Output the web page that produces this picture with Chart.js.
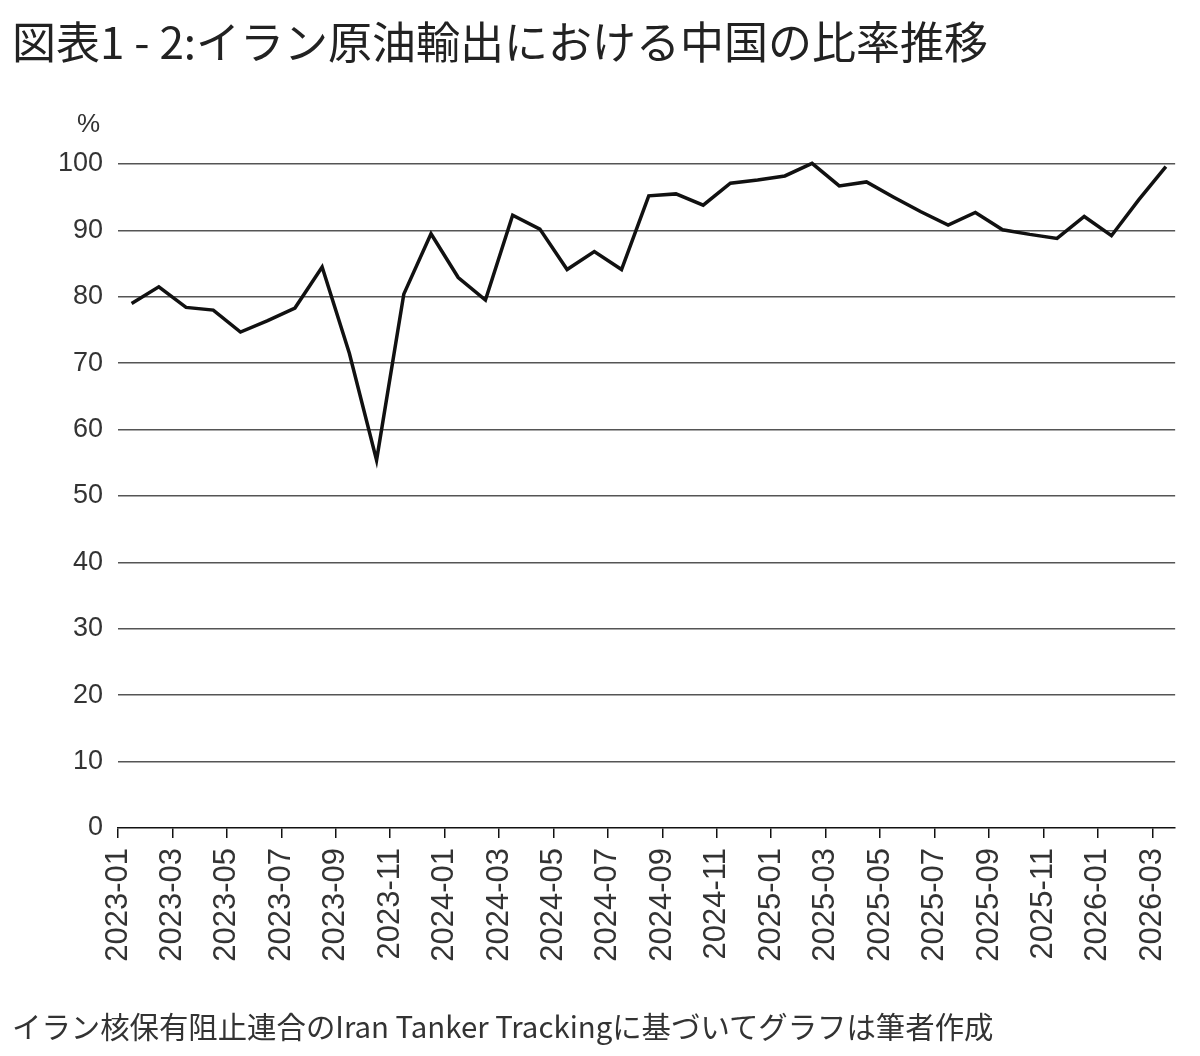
<!DOCTYPE html>
<html><head><meta charset="utf-8">
<script src="https://cdn.jsdelivr.net/npm/chart.js@4"></script>
<style>
html,body{margin:0;padding:0;background:#fff;}
#wrap{position:relative;width:1200px;height:1056px;overflow:hidden;}
canvas{position:absolute;left:0;top:0;}
#title{position:absolute;left:12px;top:18px;font-family:"Noto Sans CJK JP";font-size:44px;color:#222;white-space:nowrap;line-height:1;}
#unit{position:absolute;left:77px;top:110px;font-family:"Liberation Sans";font-size:26px;color:#333;line-height:1;}
#note{position:absolute;left:12px;top:1011px;font-family:"Noto Sans CJK JP";font-size:29.4px;color:#333;white-space:nowrap;line-height:1;}
</style></head>
<body><div id="wrap"><canvas id="c" width="1200" height="1056"></canvas>
<div id="title">図表1 - 2:イラン原油輸出における中国の比率推移</div>
<div id="unit">%</div>
<div id="note">イラン核保有阻止連合のIran Tanker Trackingに基づいてグラフは筆者作成</div>
</div>
<script>
const months = ['2023-01','2023-02','2023-03','2023-04','2023-05','2023-06','2023-07','2023-08','2023-09','2023-10','2023-11','2023-12',
  '2024-01','2024-02','2024-03','2024-04','2024-05','2024-06','2024-07','2024-08','2024-09','2024-10','2024-11','2024-12',
  '2025-01','2025-02','2025-03','2025-04','2025-05','2025-06','2025-07','2025-08','2025-09','2025-10','2025-11','2025-12',
  '2026-01','2026-02','2026-03'];
const chinaShare = [79.0,81.5,78.4,78.0,74.7,76.4,78.3,84.5,71.5,55.4,80.4,89.5,
  82.9,79.5,92.3,90.2,84.1,86.8,84.1,95.2,95.5,93.8,97.1,97.6,
  98.2,100.1,96.7,97.3,95.0,92.8,90.8,92.7,90.1,89.4,88.8,92.1,
  89.2,94.6,99.6];
const yTickValues = [0,10,20,30,40,50,60,70,80,90,100];

const ctx = document.getElementById('c').getContext('2d');
new Chart(ctx, {
  type: 'line',
  data: {
    datasets: [{
      data: months.map((m, i) => ({ x: i + 0.5, y: chinaShare[i] })),
      borderColor: '#111',
      borderWidth: 3.5,
      pointRadius: 0,
      tension: 0,
      fill: false,
      clip: false
    }]
  },
  options: {
    responsive: false,
    animation: false,
    layout: { padding: { left: 0, right: 24, top: 164, bottom: 0 } },
    plugins: { legend: { display: false }, tooltip: { enabled: false } },
    scales: {
      x: {
        type: 'linear', min: 0, max: 38.84,
        afterFit(s) { s.height = 228; },
        border: { display: true, color: '#111', width: 1.5 },
        grid: { drawOnChartArea: false, drawTicks: true, tickLength: 10, color: '#111', lineWidth: 1.5 },
        ticks: {
          stepSize: 2, includeBounds: false, autoSkip: false,
          maxRotation: 90, minRotation: 90, padding: 10,
          color: '#333', font: { family: 'Liberation Sans', size: 31 },
          callback: (v) => months[Math.round(v)]
        }
      },
      y: {
        min: 0, max: 100,
        afterFit(s) { s.width = 118; },
        afterBuildTicks(s) { s.ticks = yTickValues.map(v => ({ value: v })); },
        border: { display: false },
        grid: {
          drawTicks: false, lineWidth: 1.5,
          color: (c) => (c.tick && c.tick.value === 0) ? 'rgba(0,0,0,0)' : '#555'
        },
        ticks: { padding: 15, color: '#333', font: { family: 'Liberation Sans', size: 27 } }
      }
    }
  }
});
</script>
</body></html>
